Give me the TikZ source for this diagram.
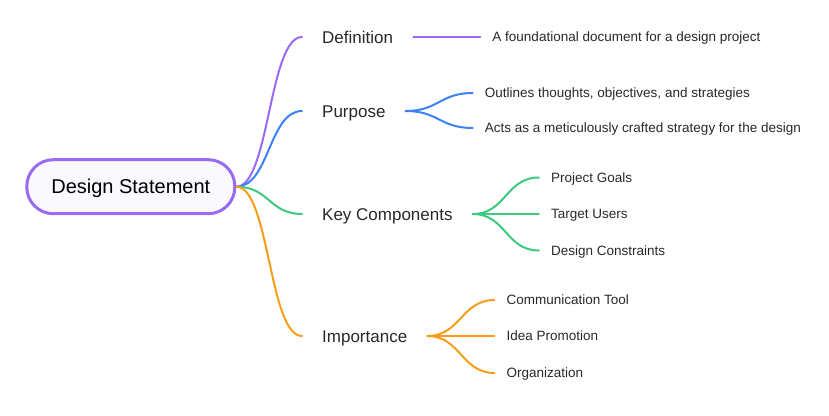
\documentclass[tikz,border=0pt]{standalone}
\usepackage{fontspec}
\setmainfont{Liberation Sans}
\usepackage{xcolor}
\usepackage{tikz}
\usetikzlibrary{positioning}
\definecolor{cdef}{RGB}{155,106,242}
\definecolor{cpur}{RGB}{59,130,246}
\definecolor{ckey}{RGB}{62,201,128}
\definecolor{cimp}{RGB}{247,157,25}
\definecolor{cbg}{RGB}{250,250,254}
\definecolor{ink}{RGB}{40,40,40}

\begin{document}
\begin{tikzpicture}[x=1pt,y=-1pt,node distance=67pt]
\tikzstyle{root}=[draw=cdef,line width=3pt,fill=cbg,rounded corners=26.5pt,minimum width=208pt,minimum height=54pt,font=\fontsize{20}{24}\selectfont,text=black,text height=14.3pt,text depth=0pt]
\tikzstyle{topic}=[anchor=west,inner xsep=20pt,inner ysep=0pt,font=\fontsize{17}{20}\selectfont,text=ink,text height=12pt,text depth=0pt]
\tikzstyle{leaf}=[inner xsep=12pt,inner ysep=0pt,font=\fontsize{13.5}{16}\selectfont,text=ink,text height=9.5pt,text depth=0pt]
\tikzstyle{br}=[line width=2pt,line cap=round]
\useasboundingbox (0,0) rectangle (829,415);
\node[root] (ds) at (130.8,186.7) {Design Statement};
\node[topic] (def) at (302,37) {Definition};
\node[topic] (pur) at (302,111) {Purpose};
\node[topic] (key) at (302,214) {Key Components};
\node[topic] (imp) at (302,336) {Importance};
% second level
\node[leaf,right=of def] (def1) {A foundational document for a design project};
\node[leaf,right=of pur,yshift=18pt] (pur1) {Outlines thoughts, objectives, and strategies};
\node[leaf,right=of pur,yshift=-17pt] (pur2) {Acts as a meticulously crafted strategy for the design};
\node[leaf,right=66pt of key,yshift=36.5pt] (key1) {Project Goals};
\node[leaf,right=66pt of key] (key2) {Target Users};
\node[leaf,right=66pt of key,yshift=-36.5pt] (key3) {Design Constraints};
\node[leaf,right=of imp,yshift=36pt] (imp1) {Communication Tool};
\node[leaf,right=of imp] (imp2) {Idea Promotion};
\node[leaf,right=of imp,yshift=-37pt] (imp3) {Organization};
% branches
\draw[br,cdef] (ds.east) .. controls +(33,0) and +(-33,0) .. (def.west);
\draw[br,cpur] (ds.east) .. controls +(33,0) and +(-33,0) .. (pur.west);
\draw[br,ckey] (ds.east) .. controls +(33,0) and +(-33,0) .. (key.west);
\draw[br,cimp] (ds.east) .. controls +(33,0) and +(-33,0) .. (imp.west);
\draw[br,cdef] (def.east) -- (def1.west);
\draw[br,cpur] (pur.east) .. controls +(33,0) and +(-33,0) .. (pur1.west);
\draw[br,cpur] (pur.east) .. controls +(33,0) and +(-33,0) .. (pur2.west);
\draw[br,ckey] (key.east) .. controls +(33,0) and +(-33,0) .. (key1.west);
\draw[br,ckey] (key.east) -- (key2.west);
\draw[br,ckey] (key.east) .. controls +(33,0) and +(-33,0) .. (key3.west);
\draw[br,cimp] (imp.east) .. controls +(33,0) and +(-33,0) .. (imp1.west);
\draw[br,cimp] (imp.east) -- (imp2.west);
\draw[br,cimp] (imp.east) .. controls +(33,0) and +(-33,0) .. (imp3.west);
\end{tikzpicture}
\end{document}
